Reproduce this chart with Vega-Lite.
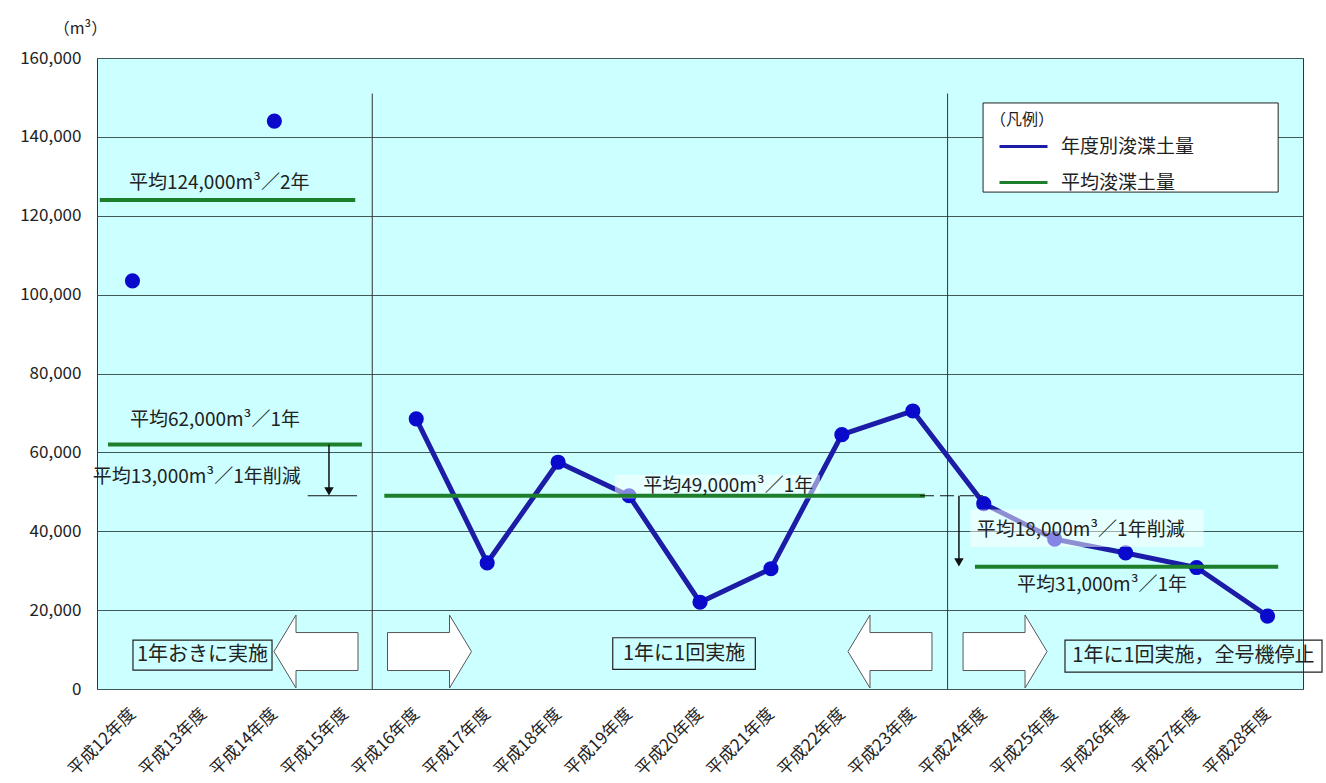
{
  "$schema": "https://vega.github.io/schema/vega-lite/v6.json",
  "width": 1206,
  "height": 631,
  "autosize": {"type": "none"},
  "padding": {"left": 97, "top": 58, "right": 23, "bottom": 94},
  "background": "#ffffff",
  "config": {
    "font": "Noto Sans CJK JP",
    "view": {"fill": "#CCFFFF", "stroke": "#333333", "strokeWidth": 1},
    "axis": {"labelFont": "Noto Sans CJK JP", "labelColor": "#222222", "titleColor": "#222222"}
  },
  "datasets": {
    "dredging": [
      {"年度": 12, "量": 103500, "系列": "年度別浚渫土量"},
      {"年度": 14, "量": 144000, "系列": "年度別浚渫土量"},
      {"年度": 16, "量": 68500, "系列": "年度別浚渫土量"},
      {"年度": 17, "量": 32000, "系列": "年度別浚渫土量"},
      {"年度": 18, "量": 57500, "系列": "年度別浚渫土量"},
      {"年度": 19, "量": 49000, "系列": "年度別浚渫土量"},
      {"年度": 20, "量": 22000, "系列": "年度別浚渫土量"},
      {"年度": 21, "量": 30500, "系列": "年度別浚渫土量"},
      {"年度": 22, "量": 64500, "系列": "年度別浚渫土量"},
      {"年度": 23, "量": 70500, "系列": "年度別浚渫土量"},
      {"年度": 24, "量": 47000, "系列": "年度別浚渫土量"},
      {"年度": 25, "量": 38000, "系列": "年度別浚渫土量"},
      {"年度": 26, "量": 34500, "系列": "年度別浚渫土量"},
      {"年度": 27, "量": 30800, "系列": "年度別浚渫土量"},
      {"年度": 28, "量": 18500, "系列": "年度別浚渫土量"}
    ],
    "averages": [
      {"系列": "平均浚渫土量", "開始": 11.54, "終了": 15.14, "量": 124000},
      {"系列": "平均浚渫土量", "開始": 11.655, "終了": 15.235, "量": 62000},
      {"系列": "平均浚渫土量", "開始": 15.55, "終了": 23.17, "量": 49000},
      {"系列": "平均浚渫土量", "開始": 23.876, "終了": 28.15, "量": 31000}
    ],
    "dividers": [
      {"位置": 15.38, "下": 0, "上": 151000},
      {"位置": 23.49, "下": 0, "上": 151000}
    ],
    "reductions": [
      {"位置": 14.77, "上": 62000, "下": 50500, "先端": 50100},
      {"位置": 23.65, "上": 49000, "下": 32500, "先端": 32100}
    ],
    "levelMarks": [
      {"開始": 14.47, "終了": 15.165, "量": 49000, "種類": "実線"},
      {"開始": 23.1, "終了": 23.99, "量": 49000, "種類": "破線"}
    ],
    "blockArrows": [
      {"位置": 14.587, "量": 9500, "向き": "左"},
      {"位置": 16.187, "量": 9500, "向き": "右"},
      {"位置": 22.678, "量": 9500, "向き": "左"},
      {"位置": 24.3, "量": 9500, "向き": "右"}
    ],
    "boxes": [
      {"左": 12.007, "右": 13.967, "中心": 12.987, "上": 12400, "下": 4800, "中": 8600, "文": "1年おきに実施"},
      {"左": 18.77, "右": 20.78, "中心": 19.775, "上": 13000, "下": 5000, "中": 9000, "文": "1年に1回実施"},
      {"左": 25.145, "右": 28.768, "中心": 26.956, "上": 12400, "下": 4300, "中": 8350, "文": "1年に1回実施，全号機停止"}
    ],
    "shades": [
      {"左": 18.8, "右": 21.69, "上": 54300, "下": 48300},
      {"左": 23.81, "右": 27.1, "上": 45500, "下": 36000}
    ],
    "notes": [
      {"x": 11.95, "y": 128300, "文": "平均124,000m³／2年"},
      {"x": 11.965, "y": 68200, "文": "平均62,000m³／1年"},
      {"x": 11.44, "y": 53750, "文": "平均13,000m³／1年削減"},
      {"x": 19.2, "y": 51500, "文": "平均49,000m³／1年"},
      {"x": 23.9, "y": 40300, "文": "平均18,000m³／1年削減"},
      {"x": 24.47, "y": 26400, "文": "平均31,000m³／1年"}
    ],
    "legendFrame": [
      {"左": 23.99, "右": 28.15, "上": 148600, "下": 126000}
    ]
  },
  "layer": [
    {
      "data": {"name": "dividers"},
      "mark": {"type": "rule", "color": "#333333", "strokeWidth": 1},
      "encoding": {
        "x": {
          "field": "位置", "type": "quantitative",
          "scale": {"domain": [11.5, 28.5], "nice": false, "zero": false},
          "axis": {
            "values": [12, 13, 14, 15, 16, 17, 18, 19, 20, 21, 22, 23, 24, 25, 26, 27, 28],
            "labelExpr": "'平成' + datum.value + '年度'",
            "title": null, "grid": false, "domain": false, "ticks": false,
            "labelAngle": -45, "labelAlign": "right", "labelBaseline": "middle",
            "labelFontSize": 17, "labelPadding": 22, "labelOverlap": false, "labelBound": false
          }
        },
        "y": {
          "field": "下", "type": "quantitative",
          "scale": {"domain": [0, 160000], "nice": false},
          "axis": {
            "values": [0, 20000, 40000, 60000, 80000, 100000, 120000, 140000, 160000],
            "format": ",d", "grid": true, "gridColor": "#405858", "gridWidth": 1,
            "domain": false, "ticks": false, "labelPadding": 16, "labelFontSize": 17,
            "title": "（m³）", "titleAngle": 0, "titleX": -17, "titleY": -30,
            "titleAlign": "center", "titleBaseline": "middle",
            "titleFontSize": 16, "titleFontWeight": "normal"
          }
        },
        "y2": {"field": "上"}
      }
    },
    {
      "data": {"name": "legendFrame"},
      "mark": {"type": "rect", "fill": "#ffffff", "stroke": "#222222", "strokeWidth": 1},
      "encoding": {
        "x": {"field": "左", "type": "quantitative"},
        "x2": {"field": "右"},
        "y": {"field": "上", "type": "quantitative"},
        "y2": {"field": "下"}
      }
    },
    {
      "data": {"name": "dredging"},
      "transform": [{"filter": "datum['年度'] >= 16"}],
      "mark": {"type": "line", "strokeWidth": 5},
      "encoding": {
        "x": {"field": "年度", "type": "quantitative"},
        "y": {"field": "量", "type": "quantitative"},
        "color": {
          "field": "系列", "type": "nominal",
          "scale": {"domain": ["年度別浚渫土量", "平均浚渫土量"], "range": ["#1c1ca6", "#1d7f2c"]},
          "legend": {
            "title": "（凡例）", "orient": "none", "legendX": 893, "legendY": 54,
            "padding": 0, "titleFontSize": 16, "titleFontWeight": "normal", "titlePadding": -7,
            "titleColor": "#222222",
            "symbolType": "stroke", "symbolSize": 2304, "symbolStrokeWidth": 3,
            "symbolOffset": 8, "labelOffset": 12, "labelFontSize": 19, "labelColor": "#222222",
            "rowPadding": -32
          }
        }
      }
    },
    {
      "data": {"name": "dredging"},
      "mark": {"type": "point", "filled": true, "shape": "circle", "size": 230, "color": "#0a0acc", "opacity": 1},
      "encoding": {
        "x": {"field": "年度", "type": "quantitative"},
        "y": {"field": "量", "type": "quantitative"}
      }
    },
    {
      "data": {"name": "shades"},
      "mark": {"type": "rect", "fill": "#ffffff", "opacity": 0.5},
      "encoding": {
        "x": {"field": "左", "type": "quantitative"},
        "x2": {"field": "右"},
        "y": {"field": "上", "type": "quantitative"},
        "y2": {"field": "下"}
      }
    },
    {
      "data": {"name": "averages"},
      "mark": {"type": "rule", "strokeWidth": 4},
      "encoding": {
        "x": {"field": "開始", "type": "quantitative"},
        "x2": {"field": "終了"},
        "y": {"field": "量", "type": "quantitative"},
        "color": {"field": "系列", "type": "nominal"}
      }
    },
    {
      "data": {"name": "reductions"},
      "mark": {"type": "rule", "color": "#111111", "strokeWidth": 1.5},
      "encoding": {
        "x": {"field": "位置", "type": "quantitative"},
        "y": {"field": "上", "type": "quantitative"},
        "y2": {"field": "下"}
      }
    },
    {
      "data": {"name": "reductions"},
      "mark": {"type": "point", "shape": "triangle-down", "filled": true, "size": 90, "color": "#111111", "opacity": 1},
      "encoding": {
        "x": {"field": "位置", "type": "quantitative"},
        "y": {"field": "先端", "type": "quantitative"}
      }
    },
    {
      "data": {"name": "levelMarks"},
      "transform": [{"filter": "datum['種類'] === '実線'"}],
      "mark": {"type": "rule", "color": "#111111", "strokeWidth": 1},
      "encoding": {
        "x": {"field": "開始", "type": "quantitative"},
        "x2": {"field": "終了"},
        "y": {"field": "量", "type": "quantitative"}
      }
    },
    {
      "data": {"name": "levelMarks"},
      "transform": [{"filter": "datum['種類'] === '破線'"}],
      "mark": {"type": "rule", "color": "#111111", "strokeWidth": 1, "strokeDash": [14, 6]},
      "encoding": {
        "x": {"field": "開始", "type": "quantitative"},
        "x2": {"field": "終了"},
        "y": {"field": "量", "type": "quantitative"}
      }
    },
    {
      "data": {"name": "blockArrows"},
      "mark": {"type": "point", "filled": true, "fill": "#ffffff", "stroke": "#555555", "strokeWidth": 1, "size": 7056, "opacity": 1},
      "encoding": {
        "x": {"field": "位置", "type": "quantitative"},
        "y": {"field": "量", "type": "quantitative"},
        "shape": {
          "field": "向き", "type": "nominal",
          "scale": {
            "domain": ["左", "右"],
            "range": [
              "M-1,0L-0.476,-0.869L-0.476,-0.452L1,-0.452L1,0.452L-0.476,0.452L-0.476,0.869Z",
              "M1,0L0.476,-0.869L0.476,-0.452L-1,-0.452L-1,0.452L0.476,0.452L0.476,0.869Z"
            ]
          },
          "legend": null
        }
      }
    },
    {
      "data": {"name": "boxes"},
      "mark": {"type": "rect", "fill": null, "fillOpacity": 0, "stroke": "#222222", "strokeWidth": 1.2},
      "encoding": {
        "x": {"field": "左", "type": "quantitative"},
        "x2": {"field": "右"},
        "y": {"field": "上", "type": "quantitative"},
        "y2": {"field": "下"}
      }
    },
    {
      "data": {"name": "boxes"},
      "mark": {"type": "text", "fontSize": 20, "color": "#222222", "align": "center", "baseline": "middle"},
      "encoding": {
        "x": {"field": "中心", "type": "quantitative"},
        "y": {"field": "中", "type": "quantitative"},
        "text": {"field": "文"}
      }
    },
    {
      "data": {"name": "notes"},
      "mark": {"type": "text", "fontSize": 19, "color": "#222222", "align": "left", "baseline": "middle"},
      "encoding": {
        "x": {"field": "x", "type": "quantitative"},
        "y": {"field": "y", "type": "quantitative"},
        "text": {"field": "文"}
      }
    }
  ]
}
